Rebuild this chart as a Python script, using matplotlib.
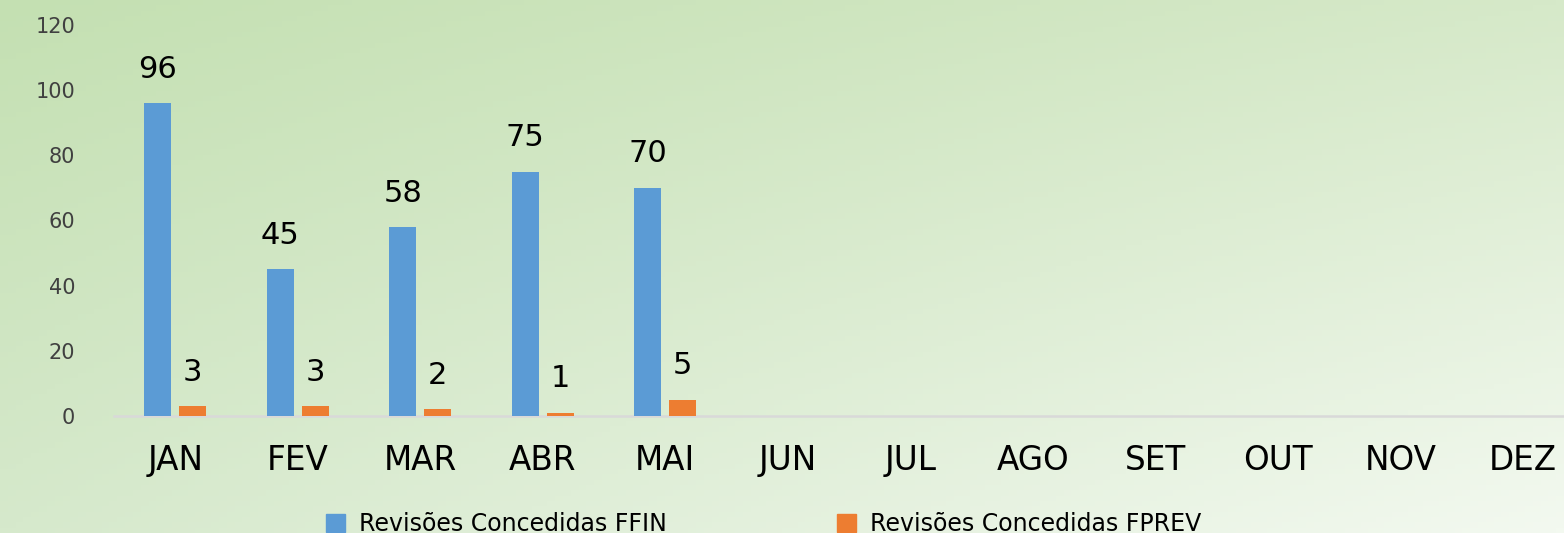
import numpy as np
import matplotlib
matplotlib.use("Agg")
import matplotlib.pyplot as plt
from matplotlib.patches import Patch

months = ["JAN", "FEV", "MAR", "ABR", "MAI", "JUN", "JUL", "AGO", "SET", "OUT", "NOV", "DEZ"]
ffin = [96, 45, 58, 75, 70]
fprev = [3, 3, 2, 1, 5]
series_names = ["Revisões Concedidas FFIN", "Revisões Concedidas FPREV"]
yticks = [0, 20, 40, 60, 80, 100, 120]

blue = "#5B9BD5"
orange = "#ED7D31"

plt.rcParams['font.family'] = ['DejaVu Sans']

W, H = 1564, 533
fig = plt.figure(figsize=(W / 100, H / 100), dpi=100)

# background gradient
bg = fig.add_axes([0, 0, 1, 1], zorder=-10)
bg.set_axis_off()
tl = np.array([196, 224, 178]) / 255
tr = np.array([214, 233, 201]) / 255
bl = np.array([214, 233, 204]) / 255
br = np.array([243, 249, 240]) / 255
u = np.linspace(0, 1, 200)[None, :, None]
v = np.linspace(0, 1, 100)[:, None, None]
img = (tl * (1 - u) * (1 - v) + tr * u * (1 - v) + bl * (1 - u) * v + br * u * v)
bg.imshow(img, aspect='auto', extent=[0, 1, 0, 1], origin='upper')
bg.set_xlim(0, 1)
bg.set_ylim(0, 1)

left = 114 / W
bottom = (H - 416) / H
width = (1584 - 114) / W
height = (416 - 25) / H
ax = fig.add_axes([left, bottom, width, height])
ax.patch.set_alpha(0)

x = np.arange(len(months))
bw = 0.22
off = 0.142
xb = x[:len(ffin)] - off
xo = x[:len(fprev)] + off
ax.bar(xb, ffin, width=bw, color=blue, label=series_names[0], zorder=3)
ax.bar(xo, fprev, width=bw, color=orange, label=series_names[1], zorder=3)

for xi, v_ in zip(xb, ffin):
    ax.annotate(str(v_), (xi, v_), xytext=(0, 14), textcoords='offset points',
                ha='center', va='bottom', fontsize=22, color='black')
for xi, v_ in zip(xo, fprev):
    ax.annotate(str(v_), (xi, v_), xytext=(0, 14), textcoords='offset points',
                ha='center', va='bottom', fontsize=22, color='black')

ax.set_xlim(-0.5, len(months) - 0.5)
ax.set_ylim(0, 120)
ax.set_yticks(yticks)
ax.set_yticklabels([str(t) for t in yticks], fontsize=15, color='#404040')
ax.set_xticks(x)
ax.set_xticklabels(months, fontsize=23.5, color='black')
ax.tick_params(axis='y', length=0, pad=28)
ax.tick_params(axis='x', length=0, pad=20)
for s in ['top', 'right', 'left']:
    ax.spines[s].set_visible(False)
ax.spines['bottom'].set_color('#d9d9d9')
ax.spines['bottom'].set_linewidth(1.8)

handles = [Patch(color=blue), Patch(color=orange)]
fig.legend(handles, series_names, loc='center', bbox_to_anchor=(764 / W, 1 - 524 / H),
           ncol=2, frameon=False, fontsize=17, handlelength=0.8, handleheight=0.8,
           handletextpad=0.6, columnspacing=7.2)

fig.savefig("out.png", dpi=100)
